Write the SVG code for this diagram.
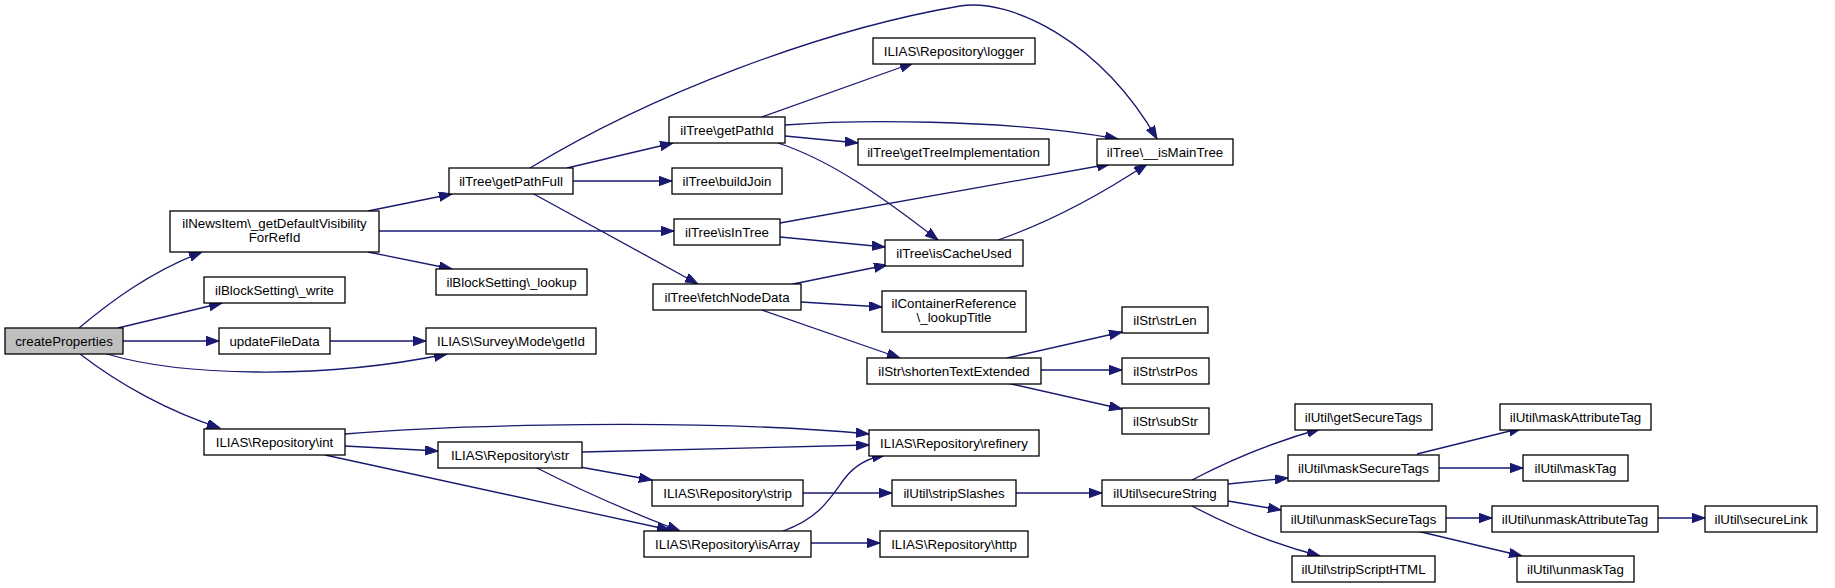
<svg xmlns="http://www.w3.org/2000/svg" width="1835" height="588" viewBox="0 0 1835 588">
<style>
.n rect{fill:#fff;stroke:#000;stroke-width:1.3}
.n.root rect{fill:#bfbfbf}
.n text{font-family:"Liberation Sans",Arial,Helvetica,sans-serif;font-size:13.3px;fill:#000;text-anchor:middle}
#edges path{fill:none;stroke:#191970;stroke-width:1.3;marker-end:url(#ah)}
</style>
<defs>
<marker id="ah" markerUnits="userSpaceOnUse" markerWidth="14" markerHeight="10" refX="13" refY="4.7" orient="auto">
<path d="M0,0 L13,4.7 L0,9.4 z" fill="#191970" stroke="#191970" stroke-width="1"/>
</marker>
</defs>
<rect width="1835" height="588" fill="#fff"/>
<g id="edges">
<path d="M79,328 C110,302 150,272 202,252"/>
<path d="M118,328 L222,303"/>
<path d="M123,341 L219,341"/>
<path d="M107,354 C180,376 320,380 447,354"/>
<path d="M80,354 C120,385 170,412 220,428"/>
<path d="M330,341 L426,341"/>
<path d="M368,211 L452,194"/>
<path d="M379,231 L674,231"/>
<path d="M368,252 L452,269"/>
<path d="M567,168 L673,143"/>
<path d="M573,181 L672,181"/>
<path d="M532,193 L698,284"/>
<path d="M530,168 C650,95 820,30 960,6 C1010,-2 1100,40 1157,139"/>
<path d="M762,117 L913,63"/>
<path d="M785,125 C850,120 1000,118 1118,139"/>
<path d="M785,136 L858,143"/>
<path d="M778,143 C830,160 880,195 938,240"/>
<path d="M780,223 L1110,164"/>
<path d="M780,237 L885,247"/>
<path d="M998,240 C1050,222 1100,195 1147,164"/>
<path d="M793,284 L887,265"/>
<path d="M801,302 L882,307"/>
<path d="M762,310 L900,358"/>
<path d="M1007,358 L1122,332"/>
<path d="M1041,370 L1122,370"/>
<path d="M1007,383 L1122,409"/>
<path d="M345,434 C450,425 700,418 869,434"/>
<path d="M345,446 L438,451"/>
<path d="M325,455 L670,530"/>
<path d="M582,452 L869,445"/>
<path d="M580,467 L652,480"/>
<path d="M535,467 C580,490 630,512 680,531"/>
<path d="M803,493 L892,493"/>
<path d="M783,531 C820,518 830,498 845,478 C855,465 868,458 885,455"/>
<path d="M811,543 L880,543"/>
<path d="M1016,493 L1102,493"/>
<path d="M1192,480 C1230,460 1270,443 1320,429"/>
<path d="M1228,484 L1288,478"/>
<path d="M1228,501 L1281,510"/>
<path d="M1192,506 C1230,526 1270,543 1320,556"/>
<path d="M1417,454 L1522,428"/>
<path d="M1439,468 L1523,468"/>
<path d="M1446,518 L1492,518"/>
<path d="M1417,531 L1522,556"/>
<path d="M1658,518 L1705,518"/>
</g>
<g id="n0" class="n root"><rect x="5" y="328" width="118" height="26"/><text x="64" y="345.5">createProperties</text></g>
<g id="n1" class="n"><rect x="170" y="211" width="209" height="41"/><text x="274.5" y="227.5">ilNewsItem\_getDefaultVisibility</text><text x="274.5" y="241.5">ForRefId</text></g>
<g id="n2" class="n"><rect x="204" y="277" width="141" height="26"/><text x="274.5" y="294.5">ilBlockSetting\_write</text></g>
<g id="n3" class="n"><rect x="219" y="328" width="111" height="26"/><text x="274.5" y="345.5">updateFileData</text></g>
<g id="n4" class="n"><rect x="426" y="328" width="170" height="26"/><text x="511" y="345.5">ILIAS\Survey\Mode\getId</text></g>
<g id="n5" class="n"><rect x="204" y="429" width="141" height="26"/><text x="274.5" y="446.5">ILIAS\Repository\int</text></g>
<g id="n6" class="n"><rect x="449" y="168" width="124" height="26"/><text x="511" y="185.5">ilTree\getPathFull</text></g>
<g id="n7" class="n"><rect x="436" y="269" width="151" height="26"/><text x="511.5" y="286.5">ilBlockSetting\_lookup</text></g>
<g id="n8" class="n"><rect x="438" y="442" width="144" height="26"/><text x="510" y="459.5">ILIAS\Repository\str</text></g>
<g id="n9" class="n"><rect x="669" y="117" width="116" height="26"/><text x="727" y="134.5">ilTree\getPathId</text></g>
<g id="n10" class="n"><rect x="672" y="168" width="110" height="26"/><text x="727" y="185.5">ilTree\buildJoin</text></g>
<g id="n11" class="n"><rect x="674" y="219" width="106" height="26"/><text x="727" y="236.5">ilTree\isInTree</text></g>
<g id="n12" class="n"><rect x="653" y="284" width="148" height="26"/><text x="727" y="301.5">ilTree\fetchNodeData</text></g>
<g id="n13" class="n"><rect x="652" y="480" width="151" height="26"/><text x="727.5" y="497.5">ILIAS\Repository\strip</text></g>
<g id="n14" class="n"><rect x="644" y="531" width="167" height="26"/><text x="727.5" y="548.5">ILIAS\Repository\isArray</text></g>
<g id="n15" class="n"><rect x="873" y="38" width="162" height="26"/><text x="954" y="55.5">ILIAS\Repository\logger</text></g>
<g id="n16" class="n"><rect x="858" y="139" width="191" height="26"/><text x="953.5" y="156.5">ilTree\getTreeImplementation</text></g>
<g id="n17" class="n"><rect x="885" y="240" width="138" height="26"/><text x="954" y="257.5">ilTree\isCacheUsed</text></g>
<g id="n18" class="n"><rect x="882" y="291" width="144" height="41"/><text x="954" y="307.5">ilContainerReference</text><text x="954" y="321.5">\_lookupTitle</text></g>
<g id="n19" class="n"><rect x="867" y="358" width="174" height="26"/><text x="954" y="375.5">ilStr\shortenTextExtended</text></g>
<g id="n20" class="n"><rect x="869" y="430" width="170" height="26"/><text x="954" y="447.5">ILIAS\Repository\refinery</text></g>
<g id="n21" class="n"><rect x="892" y="480" width="124" height="26"/><text x="954" y="497.5">ilUtil\stripSlashes</text></g>
<g id="n22" class="n"><rect x="880" y="531" width="148" height="26"/><text x="954" y="548.5">ILIAS\Repository\http</text></g>
<g id="n23" class="n"><rect x="1097" y="139" width="136" height="26"/><text x="1165" y="156.5">ilTree\__isMainTree</text></g>
<g id="n24" class="n"><rect x="1122" y="307" width="86" height="26"/><text x="1165" y="324.5">ilStr\strLen</text></g>
<g id="n25" class="n"><rect x="1122" y="358" width="87" height="26"/><text x="1165.5" y="375.5">ilStr\strPos</text></g>
<g id="n26" class="n"><rect x="1122" y="408" width="87" height="26"/><text x="1165.5" y="425.5">ilStr\subStr</text></g>
<g id="n27" class="n"><rect x="1102" y="480" width="126" height="26"/><text x="1165" y="497.5">ilUtil\secureString</text></g>
<g id="n28" class="n"><rect x="1295" y="404" width="137" height="26"/><text x="1363.5" y="421.5">ilUtil\getSecureTags</text></g>
<g id="n29" class="n"><rect x="1288" y="455" width="151" height="26"/><text x="1363.5" y="472.5">ilUtil\maskSecureTags</text></g>
<g id="n30" class="n"><rect x="1281" y="506" width="165" height="26"/><text x="1363.5" y="523.5">ilUtil\unmaskSecureTags</text></g>
<g id="n31" class="n"><rect x="1292" y="556" width="143" height="26"/><text x="1363.5" y="573.5">ilUtil\stripScriptHTML</text></g>
<g id="n32" class="n"><rect x="1500" y="404" width="151" height="26"/><text x="1575.5" y="421.5">ilUtil\maskAttributeTag</text></g>
<g id="n33" class="n"><rect x="1523" y="455" width="105" height="26"/><text x="1575.5" y="472.5">ilUtil\maskTag</text></g>
<g id="n34" class="n"><rect x="1492" y="506" width="166" height="26"/><text x="1575" y="523.5">ilUtil\unmaskAttributeTag</text></g>
<g id="n35" class="n"><rect x="1517" y="556" width="117" height="26"/><text x="1575.5" y="573.5">ilUtil\unmaskTag</text></g>
<g id="n36" class="n"><rect x="1705" y="506" width="112" height="26"/><text x="1761" y="523.5">ilUtil\secureLink</text></g>
</svg>
